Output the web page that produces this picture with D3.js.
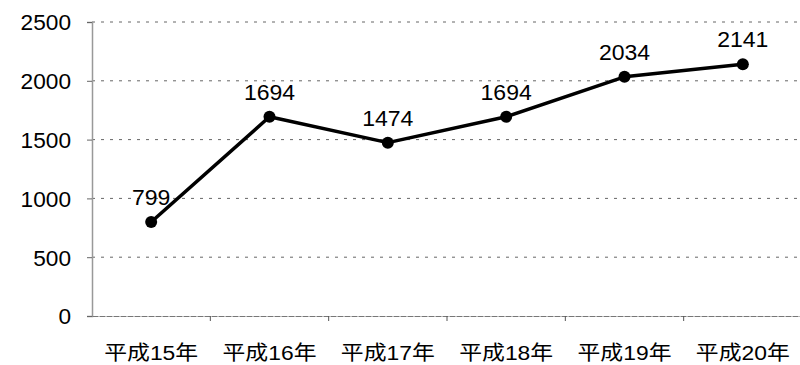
<!DOCTYPE html>
<html>
<head>
<meta charset="utf-8">
<script src="https://cdn.jsdelivr.net/npm/d3@7"></script>
<style>
  html, body { margin: 0; padding: 0; background: #fff; }
  svg { display: block; }
  text { font-family: "Liberation Sans", Arial, "Noto Sans CJK JP", sans-serif; fill: #000; }
</style>
</head>
<body>
<svg id="chart" width="800" height="365"></svg>
<script>
// Yearly totals, 平成15年 to 平成20年
const categories = ["平成15年", "平成16年", "平成17年", "平成18年", "平成19年", "平成20年"];
const values = [799, 1694, 1474, 1694, 2034, 2141];
const yTicks = [0, 500, 1000, 1500, 2000, 2500];

const svg = d3.select("#chart");
const margin = { left: 92, right: 0, top: 22, bottom: 49 };
const H = 365;

const x = d3.scaleBand()
  .domain(categories)
  .range([margin.left, 802])
  .paddingInner(0).paddingOuter(0);

const y = d3.scaleLinear()
  .domain([0, 2500])
  .range([H - margin.bottom, margin.top]);

// dashed horizontal gridlines
svg.append("g")
  .selectAll("line")
  .data(yTicks.filter(d => d > 0))
  .join("line")
  .attr("x1", margin.left)
  .attr("x2", 798)
  .attr("y1", d => y(d))
  .attr("y2", d => y(d))
  .attr("stroke", "#666")
  .attr("stroke-width", 1)
  .attr("stroke-dasharray", "3,6");

// y axis
const yAxis = d3.axisLeft(y)
  .tickValues(yTicks)
  .tickFormat(d3.format("d"))
  .tickSize(5)
  .tickPadding(16);
const gy = svg.append("g")
  .attr("transform", `translate(${margin.left},0)`)
  .call(yAxis);
gy.select(".domain").attr("stroke", "#999").attr("stroke-width", 1.5);
gy.selectAll(".tick line").attr("stroke", "#666");
gy.selectAll(".tick text")
  .attr("font-size", 22)
  .attr("font-family", "Liberation Sans, Arial, sans-serif")
  .attr("dy", "0.36em")
  .attr("textLength", d => String(d).length * 12.6)
  .attr("lengthAdjust", "spacingAndGlyphs");

// x axis
const xAxis = d3.axisBottom(x).tickSize(0).tickPadding(30);
const gx = svg.append("g")
  .attr("transform", `translate(0,${y(0)})`)
  .call(xAxis);
gx.select(".domain").attr("stroke", "#777").attr("stroke-width", 1.2).attr("stroke-dasharray", "6,1");
gx.selectAll(".tick text")
  .attr("font-size", 20)
  .attr("dy", "0.68em")
  .attr("font-family", "Liberation Sans, Arial, 'Noto Sans CJK JP', sans-serif")
  .attr("textLength", 94)
  .attr("lengthAdjust", "spacingAndGlyphs");

// category separator ticks on the x axis
svg.append("g")
  .selectAll("line")
  .data(categories.slice(1))
  .join("line")
  .attr("x1", d => x(d))
  .attr("x2", d => x(d))
  .attr("y1", y(0))
  .attr("y2", y(0) + 5)
  .attr("stroke", "#555");

const cx = d => x(d) + x.bandwidth() / 2;
const pts = categories.map((c, i) => ({ c, v: values[i] }));

// series line
svg.append("path")
  .datum(pts)
  .attr("fill", "none")
  .attr("stroke", "#000")
  .attr("stroke-width", 3.5)
  .attr("stroke-linejoin", "round")
  .attr("d", d3.line().x(d => cx(d.c)).y(d => y(d.v)));

// markers
svg.append("g")
  .selectAll("circle")
  .data(pts)
  .join("circle")
  .attr("cx", d => cx(d.c))
  .attr("cy", d => y(d.v))
  .attr("r", 6)
  .attr("fill", "#000");

// value labels
svg.append("g")
  .selectAll("text")
  .data(pts)
  .join("text")
  .attr("x", d => cx(d.c))
  .attr("y", d => y(d.v) - 17)
  .attr("text-anchor", "middle")
  .attr("font-size", 22)
  .attr("textLength", d => String(d.v).length * 12.8)
  .attr("lengthAdjust", "spacingAndGlyphs")
  .text(d => d.v);
</script>
</body>
</html>
